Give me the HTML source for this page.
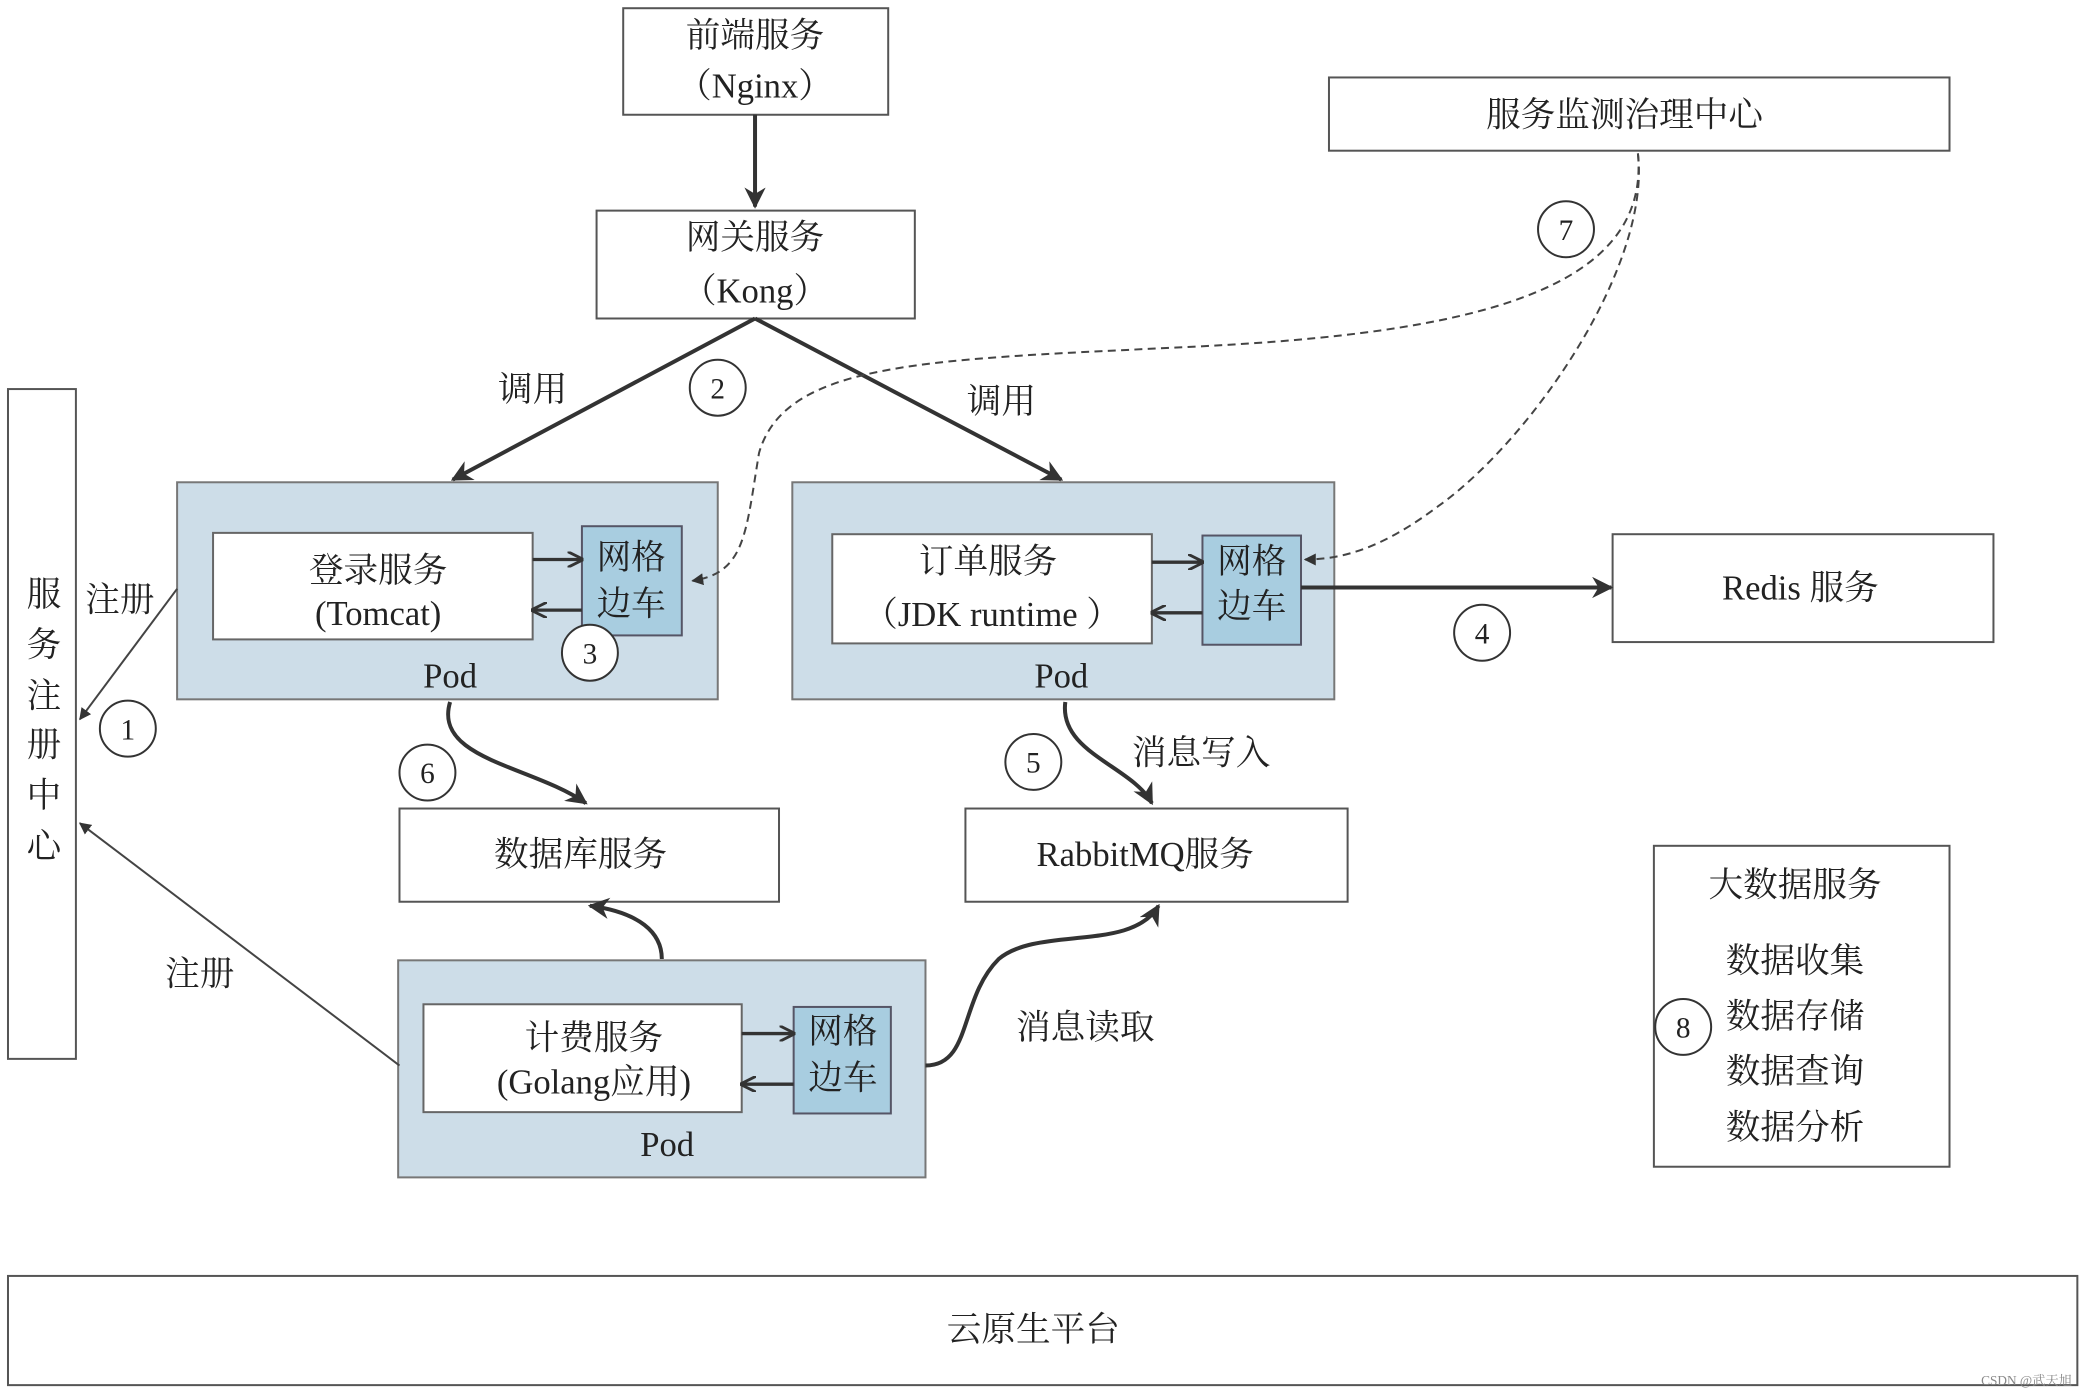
<!DOCTYPE html>
<html><head><meta charset="utf-8"><style>
html,body{margin:0;padding:0;background:#fff;}
svg{display:block;}
text{font-family:"Liberation Serif","Noto Serif CJK SC",serif;fill:#222;}
</style></head><body>
<svg width="2088" height="1396" viewBox="0 0 1568 1048" xmlns="http://www.w3.org/2000/svg">
<defs>
<marker id="a" viewBox="0 0 10 10" refX="9" refY="5" markerWidth="9" markerHeight="9" orient="auto-start-reverse" markerUnits="userSpaceOnUse"><path d="M0,0 L10,5 L0,10 z" fill="#333"/></marker>
<marker id="b" viewBox="0 0 10 10" refX="9" refY="5" markerWidth="16" markerHeight="16" orient="auto" markerUnits="userSpaceOnUse"><path d="M0,0 L10,5 L0,10 L3,5 z" fill="#333"/></marker>
<marker id="o" viewBox="0 0 10 10" refX="9" refY="5" markerWidth="12" markerHeight="12" orient="auto" markerUnits="userSpaceOnUse"><path d="M0,0 L10,5 L0,10" fill="none" stroke="#333" stroke-width="1.8"/></marker>
</defs>
<g fill="#fff" stroke="#555" stroke-width="1.5">
<rect x="468" y="6" width="199" height="80"/>
<rect x="448" y="158" width="239" height="81"/>
<rect x="998" y="58" width="466" height="55"/>
<rect x="6" y="292" width="51" height="503"/>
<rect x="1211" y="401" width="286" height="81"/>
<rect x="300" y="607" width="285" height="70"/>
<rect x="725" y="607" width="287" height="70"/>
<rect x="1242" y="635" width="222" height="241"/>
<rect x="6" y="958" width="1554" height="82"/>
</g>
<g fill="#cddde8" stroke="#777" stroke-width="1.5">
<rect x="133" y="362" width="406" height="163"/>
<rect x="595" y="362" width="407" height="163"/>
<rect x="299" y="721" width="396" height="163"/>
</g>
<g fill="#fff" stroke="#666" stroke-width="1.5">
<rect x="160" y="400" width="240" height="80"/>
<rect x="625" y="401" width="240" height="82"/>
<rect x="318" y="754" width="239" height="81"/>
</g>
<g fill="#a8cde0" stroke="#556" stroke-width="1.5">
<rect x="437" y="395" width="75" height="82"/>
<rect x="903" y="402" width="74" height="82"/>
<rect x="596" y="756" width="73" height="80"/>
</g>
<g stroke="#333" stroke-width="3" fill="none">
<line x1="567" y1="86" x2="567" y2="155" marker-end="url(#b)"/>
<line x1="567" y1="239" x2="340" y2="360" marker-end="url(#b)"/>
<line x1="567" y1="239" x2="797" y2="360" marker-end="url(#b)"/>
<line x1="977" y1="441" x2="1210" y2="441" marker-end="url(#b)"/>
<path d="M338,527 C325,570 400,575 440,603" marker-end="url(#b)"/>
<path d="M800,527 C795,565 850,575 865,603" marker-end="url(#b)"/>
<path d="M497,720 C497,700 480,685 443,680" marker-end="url(#b)"/>
<path d="M695,800 C730,800 720,750 750,720 C780,695 850,715 870,680" marker-end="url(#b)"/>
</g>
<g stroke="#333" stroke-width="2.5" fill="none">
<line x1="400" y1="420" x2="437" y2="420" marker-end="url(#o)"/>
<line x1="437" y1="458" x2="400" y2="458" marker-end="url(#o)"/>
<line x1="865" y1="422" x2="903" y2="422" marker-end="url(#o)"/>
<line x1="903" y1="460" x2="865" y2="460" marker-end="url(#o)"/>
<line x1="557" y1="776" x2="596" y2="776" marker-end="url(#o)"/>
<line x1="596" y1="814" x2="557" y2="814" marker-end="url(#o)"/>
</g>
<g stroke="#444" stroke-width="1.5" fill="none">
<line x1="133" y1="442" x2="60" y2="540" marker-end="url(#a)"/>
<line x1="300" y1="800" x2="60" y2="618" marker-end="url(#a)"/>
</g>
<g stroke="#444" stroke-width="1.5" fill="none" stroke-dasharray="6,4">
<path d="M1230,115 C1240,220 1100,250 900,260 C700,270 590,270 570,340 C560,400 560,430 520,436" marker-end="url(#a)"/>
<path d="M1230,115 C1240,200 1150,330 1080,380 C1040,410 1010,420 980,420" marker-end="url(#a)"/>
</g>
<g fill="#fff" stroke="#333" stroke-width="1.5">
<circle cx="96" cy="547" r="21"/><circle cx="539" cy="291" r="21"/><circle cx="443" cy="490" r="21"/>
<circle cx="1113" cy="475" r="21"/><circle cx="776" cy="572" r="21"/><circle cx="321" cy="580" r="21"/>
<circle cx="1176" cy="172" r="21"/><circle cx="1264" cy="771" r="21"/>
</g>
<g font-size="22" text-anchor="middle">
<text x="96" y="555">1</text><text x="539" y="299">2</text><text x="443" y="498">3</text>
<text x="1113" y="483">4</text><text x="776" y="580">5</text><text x="321" y="588">6</text>
<text x="1176" y="180">7</text><text x="1264" y="779">8</text>
</g>
<g font-size="26" text-anchor="middle">
<text x="567" y="35">前端服务</text><text x="567" y="73">（Nginx）</text>
<text x="567" y="187">网关服务</text><text x="567" y="227">（Kong）</text>
<text x="1220" y="95">服务监测治理中心</text>
<text x="33" y="455">服</text><text x="33" y="493">务</text><text x="33" y="531">注</text><text x="33" y="568">册</text><text x="33" y="606">中</text><text x="33" y="644">心</text>
<text x="90" y="459">注册</text><text x="150" y="740">注册</text>
<text x="400" y="301">调用</text><text x="752" y="310">调用</text>
<text x="284" y="437">登录服务</text><text x="284" y="469">(Tomcat)</text>
<text x="474" y="427">网格</text><text x="474" y="462">边车</text>
<text x="338" y="516">Pod</text>
<text x="742" y="430">订单服务</text><text x="745" y="470">（JDK runtime ）</text>
<text x="940" y="430">网格</text><text x="940" y="464">边车</text>
<text x="797" y="516">Pod</text>
<text x="1352" y="450">Redis 服务</text>
<text x="902" y="574">消息写入</text>
<text x="436" y="650">数据库服务</text>
<text x="860" y="650">RabbitMQ服务</text>
<text x="446" y="788">计费服务</text><text x="446" y="821">(Golang应用)</text>
<text x="633" y="783">网格</text><text x="633" y="818">边车</text>
<text x="501" y="868">Pod</text>
<text x="815" y="780">消息读取</text>
<text x="1348" y="673">大数据服务</text>
<text x="1348" y="730">数据收集</text><text x="1348" y="772">数据存储</text><text x="1348" y="813">数据查询</text><text x="1348" y="855">数据分析</text>
<text x="776" y="1007">云原生平台</text>
</g>
<text x="1556" y="1040" font-size="10" text-anchor="end" fill="#888" style="fill:#888">CSDN @武天旭</text>
</svg>
</body></html>
